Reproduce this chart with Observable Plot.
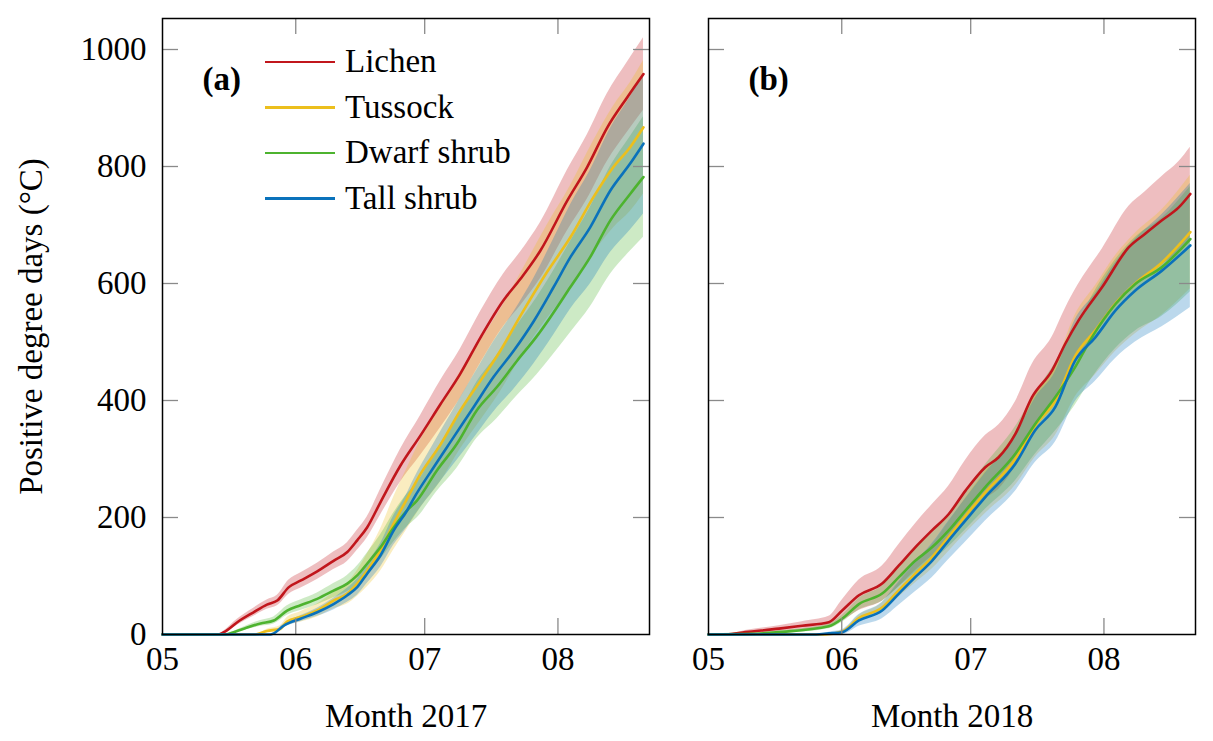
<!DOCTYPE html>
<html>
<head>
<meta charset="utf-8">
<script src="https://cdn.jsdelivr.net/npm/d3@7"></script>
<script src="https://cdn.jsdelivr.net/npm/@observablehq/plot@0.6"></script>
<style>
  body { margin: 0; background: #fff; }
  #chart { position: relative; width: 1213px; height: 741px; font-family: "Liberation Serif", serif; }
  #chart svg { position: absolute; top: 0; }
  .legend { position: absolute; left: 265px; top: 39px; font-size: 33px; }
  .legend .row { display: flex; align-items: center; height: 45.5px; }
  .legend .sw { width: 70px; height: 2.5px; margin-right: 10px; }
</style>
</head>
<body>
<div id="chart"></div>
<script>
// days counted from 1 May; values in °C·day
const names = ["Lichen", "Tussock", "Dwarf shrub", "Tall shrub"];
const colors = ["#c1161c", "#ecbf1d", "#4db32f", "#0a72bb"];

const monthDays = [0, 31, 61, 92];
const monthLabels = ["05", "06", "07", "08"];
const yTicks = [0, 200, 400, 600, 800, 1000];

// ---- 2017 ----
const lichenA_day = [0, 13, 14.3, 17.4, 21.2, 24.3, 26.7, 29.4, 32.1, 36, 39.8, 43, 45.3, 47.6, 50.7, 55.3, 60, 64.7, 69.3, 74, 79.3, 83.3, 87.9, 94.2, 98.8, 103.5, 108.1, 111.9];
const lichenA_pdd = [0, 0, 4, 21, 38, 51, 58, 81, 92, 108, 126, 141, 161, 183, 226, 288, 340, 394, 446, 508, 571, 608, 656, 742, 799, 867, 918, 958];
const lichenA_sd  = [0, 0, 2, 5, 7, 8, 9, 12, 13, 14, 15, 16, 17, 18, 22, 28, 34, 40, 42, 44, 45, 46, 48, 52, 55, 58, 60, 62];

const tussockA_day = [0, 21.6, 24.3, 27.4, 29, 32.1, 36, 39.8, 43, 45.3, 47.6, 50.7, 53.8, 56.9, 60, 64.7, 69.3, 74, 78.6, 83.3, 89.5, 94.9, 100.3, 104.9, 108.8, 111.9];
const tussockA_pdd = [0, 0, 6, 10, 22, 30, 41, 58, 70, 87, 109, 144, 190, 232, 274, 325, 383, 434, 485, 545, 620, 679, 748, 799, 833, 867];
const tussockA_sd  = [0, 0, 3, 5, 7, 9, 11, 14, 18, 22, 28, 36, 45, 52, 58, 64, 66, 68, 70, 72, 80, 88, 96, 104, 110, 114];

const dwarfA_day = [0, 14.7, 15.8, 18.9, 22.8, 25.9, 29, 32.1, 36, 39.8, 43, 45.3, 47.6, 50.7, 53.8, 56.9, 59.2, 63.8, 68.5, 73.1, 77.8, 82.5, 87.1, 90.2, 94.9, 99.5, 104.2, 108.8, 111.9];
const dwarfA_pdd = [0, 0, 2, 10, 19, 24, 41, 50, 61, 75, 87, 101, 121, 149, 183, 212, 229, 280, 326, 383, 423, 468, 510, 542, 594, 645, 708, 753, 782];
const dwarfA_sd  = [0, 0, 1, 3, 5, 6, 8, 9, 10, 12, 14, 16, 18, 21, 25, 28, 30, 36, 42, 48, 54, 60, 66, 70, 78, 85, 92, 98, 103];

const tallA_day = [0, 25.1, 25.9, 28.2, 32.1, 36, 39.8, 43, 45.3, 47.6, 50.7, 53.8, 56.9, 58.4, 63.1, 67.7, 72.4, 77, 81.7, 86.4, 91, 94.9, 99.5, 104.2, 108.8, 111.9];
const tallA_pdd = [0, 0, 2, 15, 27, 38, 52, 67, 81, 104, 135, 178, 212, 232, 286, 337, 389, 440, 485, 536, 594, 645, 696, 759, 805, 839];
const tallA_sd  = [0, 0, 1, 3, 5, 7, 10, 12, 14, 17, 20, 25, 29, 32, 40, 47, 54, 60, 66, 73, 82, 89, 97, 106, 114, 120];

// ---- 2018 ----
const lichenB_day = [0, 4, 8.6, 16.4, 21.8, 28, 31.1, 35, 40.4, 44.3, 48.1, 52, 55.9, 59.8, 64.4, 67.5, 71.4, 75.3, 79.9, 83, 86.1, 91.6, 97.8, 101.6, 105.5, 109.4, 112.1];
const lichenB_pdd = [0, 0, 4, 10, 15, 21, 41, 67, 87, 118, 149, 178, 206, 246, 286, 303, 343, 406, 451, 497, 537, 594, 662, 685, 708, 730, 753];
const lichenB_sd  = [0, 0, 3, 5, 7, 10, 18, 26, 30, 36, 40, 44, 48, 52, 54, 55, 55, 56, 57, 60, 62, 65, 70, 72, 75, 78, 80];

const tussockB_day = [0, 27, 31.1, 35, 40.4, 44.3, 48.1, 52, 55.9, 59.8, 64.4, 71.4, 76, 80.7, 85.3, 90, 94.7, 99.3, 105.5, 112.1];
const tussockB_pdd = [0, 0, 5, 28, 46, 76, 104, 132, 167, 203, 243, 300, 357, 400, 476, 520, 566, 600, 636, 688];
const tussockB_sd  = [0, 0, 1, 5, 8, 12, 16, 20, 25, 30, 36, 45, 54, 60, 70, 76, 82, 86, 90, 97];

const dwarfB_day = [0, 10, 16.4, 28, 31.1, 35, 40.4, 44.3, 48.1, 52, 55.9, 59.8, 64.4, 71.4, 76, 80.7, 85.3, 89.2, 94.7, 99.3, 105.5, 112.1];
const dwarfB_pdd = [0, 1, 4, 14, 27, 52, 70, 98, 126, 149, 178, 212, 252, 309, 360, 406, 457, 508, 565, 599, 628, 676];
const dwarfB_sd  = [0, 1, 2, 4, 6, 10, 13, 17, 21, 24, 28, 33, 38, 46, 52, 58, 65, 70, 76, 80, 84, 90];

const tallB_day = [0, 25, 28, 31.1, 35, 40.4, 44.3, 48.1, 52, 55.9, 59.8, 64.4, 71.4, 76, 80.7, 85.3, 90, 94.7, 99.3, 105.5, 112.1];
const tallB_pdd = [0, 0, 2, 4, 24, 41, 70, 98, 126, 161, 195, 235, 292, 349, 389, 468, 508, 554, 588, 622, 665];
const tallB_sd  = [0, 0, 2, 4, 10, 14, 20, 25, 29, 33, 37, 41, 47, 55, 60, 70, 75, 82, 88, 96, 106];

function rows(list) {
  return list.flatMap(([name, days, pdd, sd]) => days.map((d, i) => ({
    name, day: d, v: pdd[i], lo: Math.max(0, pdd[i] - sd[i]), hi: pdd[i] + sd[i]
  })));
}

const data2017 = rows([
  ["Lichen", lichenA_day, lichenA_pdd, lichenA_sd],
  ["Tussock", tussockA_day, tussockA_pdd, tussockA_sd],
  ["Dwarf shrub", dwarfA_day, dwarfA_pdd, dwarfA_sd],
  ["Tall shrub", tallA_day, tallA_pdd, tallA_sd]
]);
const data2018 = rows([
  ["Lichen", lichenB_day, lichenB_pdd, lichenB_sd],
  ["Tussock", tussockB_day, tussockB_pdd, tussockB_sd],
  ["Dwarf shrub", dwarfB_day, dwarfB_pdd, dwarfB_sd],
  ["Tall shrub", tallB_day, tallB_pdd, tallB_sd]
]);

const innerW = 487, innerH = 616, tickLen = 16;
const tickStyle = {stroke: "#8a8a8a", strokeOpacity: 1, strokeWidth: 1.3};

function panel(data, {width, marginLeft, marginRight, xlabel, tag, showY}) {
  const xt = monthDays.filter(d => d > 0);
  const yt = yTicks.filter(d => d > 0);
  return Plot.plot({
    width, height: 741,
    marginLeft, marginRight, marginTop: 18, marginBottom: 107,
    style: {fontFamily: "Liberation Serif", fontSize: "33px", background: "white", overflow: "visible", color: "black"},
    x: {domain: [0, 113.3]},
    y: {domain: [0, 1053], axis: showY ? undefined : null},
    color: {domain: names, range: colors},
    marks: [
      Plot.areaY(data, {x: "day", y1: "lo", y2: "hi", fill: "name", fillOpacity: 0.28, curve: "monotone-x"}),
      Plot.line(data, {x: "day", y: "v", stroke: "name", strokeWidth: 2.6, curve: "monotone-x"}),
      // inward ticks on all four sides
      Plot.gridX(xt, {insetTop: innerH - tickLen, ...tickStyle}),
      Plot.gridX(xt, {insetBottom: innerH - tickLen, ...tickStyle}),
      Plot.gridY(yt, {insetLeft: innerW - tickLen, ...tickStyle}),
      Plot.gridY(yt, {insetRight: innerW - tickLen, ...tickStyle}),
      Plot.axisX(monthDays, {
        tickSize: 0, tickPadding: 12,
        tickFormat: d => monthLabels[monthDays.indexOf(d)],
        label: xlabel, labelAnchor: "center", labelOffset: 92, labelArrow: "none"
      }),
      showY ? Plot.axisY(yTicks, {
        tickSize: 0, tickPadding: 16, tickFormat: d => String(d),
        label: "Positive degree days (°C)", labelAnchor: "center", labelOffset: 144, labelArrow: "none"
      }) : null,
      Plot.frame({stroke: "black", strokeWidth: 1.5}),
      Plot.text([tag], {text: d => d, frameAnchor: "top-left", dx: 40, dy: 48, textAnchor: "start", fontWeight: "bold", fontSize: 33})
    ]
  });
}

const chart = document.getElementById("chart");

const a = panel(data2017, {width: 660, marginLeft: 162, marginRight: 11, xlabel: "Month 2017", tag: "(a)", showY: true});
a.style.left = "0px";
chart.append(a);

const b = panel(data2018, {width: 553, marginLeft: 48, marginRight: 18, xlabel: "Month 2018", tag: "(b)", showY: false});
b.style.left = "660px";
chart.append(b);

// legend inside panel (a)
const legend = document.createElement("div");
legend.className = "legend";
names.forEach((n, i) => {
  const row = document.createElement("div");
  row.className = "row";
  const sw = document.createElement("span");
  sw.className = "sw";
  sw.style.background = colors[i];
  const label = document.createElement("span");
  label.textContent = n;
  row.append(sw, label);
  legend.append(row);
});
chart.append(legend);
</script>
</body>
</html>
